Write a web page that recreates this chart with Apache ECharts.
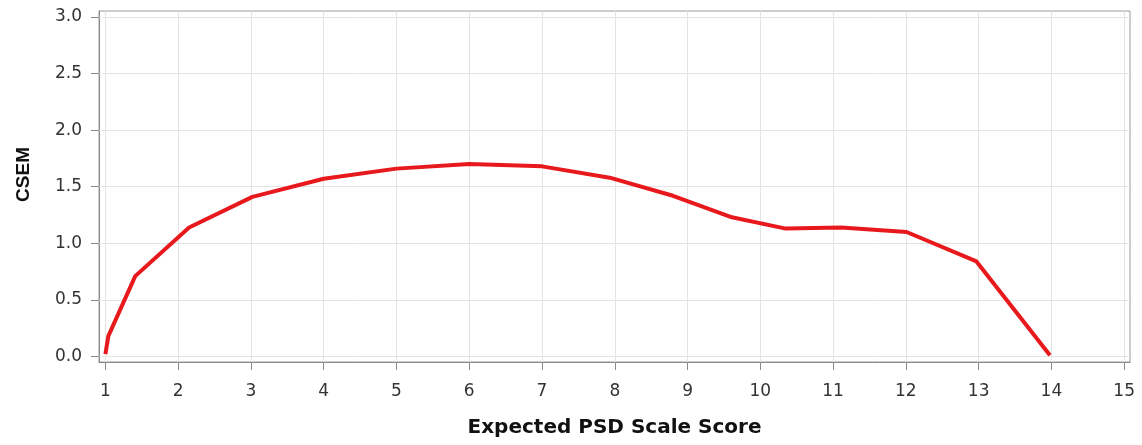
<!DOCTYPE html>
<html>
<head>
<meta charset="utf-8">
<script src="https://cdn.jsdelivr.net/npm/echarts@6/dist/echarts.min.js"></script>
<style>
html,body{margin:0;padding:0;background:#fff;}
#chart{width:1142px;height:445px;}
</style>
</head>
<body>
<div id="chart"></div>
<script>
// Data
var scaleScore = [1.0, 1.04, 1.41, 2.15, 3.02, 4.0, 5.0, 6.0, 7.0, 7.93, 8.8, 9.61, 10.35, 11.11, 12.01, 12.97, 13.98];
var csem =       [0.02, 0.18, 0.71, 1.14, 1.41, 1.57, 1.66, 1.70, 1.68, 1.58, 1.42, 1.23, 1.13, 1.14, 1.10, 0.84, 0.01];
var xTicks = [1,2,3,4,5,6,7,8,9,10,11,12,13,14,15];
var yTicks = [0, 0.5, 1.0, 1.5, 2.0, 2.5, 3.0];

var points = scaleScore.map(function(x, i){ return [x, csem[i]]; });
var gridData = xTicks.map(function(v){ return {xAxis: v}; })
  .concat(yTicks.map(function(v){ return {yAxis: v}; }));

var chart = echarts.init(document.getElementById('chart'), null, {renderer: 'canvas'});
chart.setOption({
  animation: false,
  backgroundColor: '#ffffff',
  grid: {
    left: 99, right: 12, top: 11, bottom: 83,
    show: true, borderColor: '#9a9a9a', borderWidth: 1, backgroundColor: 'transparent'
  },
  graphic: [{
    type: 'text', left: 14, top: 147, rotation: Math.PI / 2, z: 10,
    style: {text: 'CSEM', fontFamily: 'Liberation Sans', fontWeight: 'bold', fontSize: 19, fill: '#111'}
  }],
  xAxis: {
    type: 'value', min: 0.912, max: 15.08,
    name: 'Expected PSD Scale Score', nameLocation: 'middle', nameGap: 56,
    nameTextStyle: {fontFamily: 'DejaVu Sans', fontWeight: 'bold', fontSize: 20, color: '#111'},
    axisLine: {show: true, onZero: false, lineStyle: {color: '#8a8a8a', width: 1}},
    axisTick: {show: true, length: 8, customValues: xTicks, lineStyle: {color: '#8a8a8a'}},
    axisLabel: {customValues: xTicks, margin: 21, fontFamily: 'DejaVu Sans', fontSize: 17, color: '#333'},
    splitLine: {show: false}
  },
  yAxis: {
    type: 'value', min: -0.049, max: 3.053,
    axisLine: {show: true, onZero: false, lineStyle: {color: '#8a8a8a', width: 1}},
    axisTick: {show: true, length: 8, customValues: yTicks, lineStyle: {color: '#8a8a8a'}},
    axisLabel: {customValues: yTicks, margin: 17, fontFamily: 'DejaVu Sans', fontSize: 17, color: '#333',
      formatter: function(v){ return v.toFixed(1); }},
    splitLine: {show: false}
  },
  series: [
    {
      type: 'line', data: [], z: 1, silent: true,
      markLine: {
        silent: true, symbol: ['none','none'], animation: false, z: 1,
        label: {show: false},
        lineStyle: {color: '#e4e4e4', width: 1, type: 'solid'},
        emphasis: {disabled: true},
        data: gridData
      }
    },
    {
      type: 'line', data: points, z: 10,
      showSymbol: false, symbol: 'none',
      lineStyle: {color: '#e8191c', width: 4},
      itemStyle: {color: '#e8191c'}
    }
  ]
});
</script>
</body>
</html>
